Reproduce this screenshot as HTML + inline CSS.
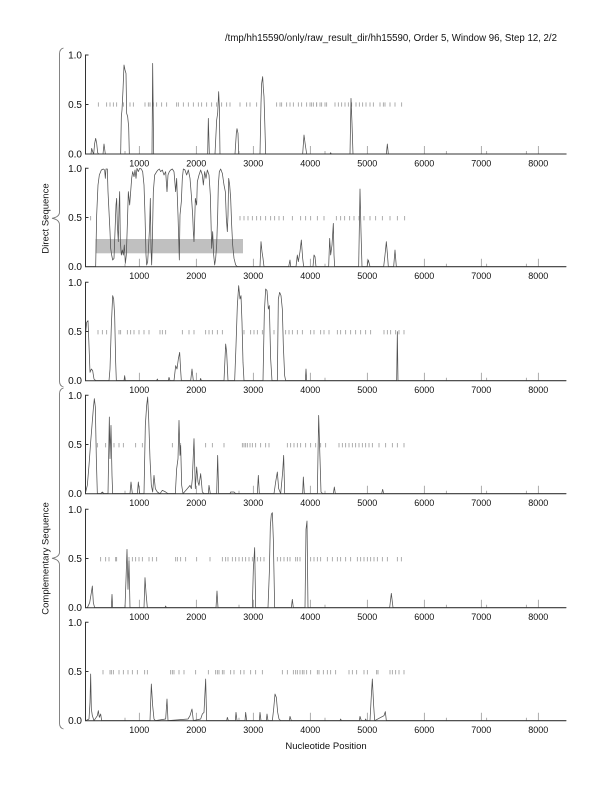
<!DOCTYPE html>
<html><head><meta charset="utf-8"><style>
html,body{margin:0;padding:0;background:#fff;}
svg{display:block;}
text{font-family:"Liberation Sans",Arial,sans-serif;fill:#111;}
.c{fill:none;stroke:#505050;stroke-width:0.75;vector-effect:non-scaling-stroke;stroke-linejoin:round;}
.m{fill:none;stroke:#9a9a9a;stroke-width:0.8;vector-effect:non-scaling-stroke;}
.ax{fill:none;stroke:#333;stroke-width:1;}
.tk{fill:none;stroke:#888;stroke-width:0.7;}
.yl{font-size:10px;text-anchor:end;}
.xl{font-size:9px;text-anchor:middle;}
</style></head><body>
<svg width="612" height="792" viewBox="0 0 612 792" xmlns="http://www.w3.org/2000/svg">
<rect width="612" height="792" fill="#fff"/>
<text x="557" y="41" font-size="10" text-anchor="end" textLength="332" lengthAdjust="spacingAndGlyphs">/tmp/hh15590/only/raw_result_dir/hh15590, Order 5, Window 96, Step 12, 2/2</text>

<!-- braces -->
<path d="M63.5,48 Q59.5,49 59.5,54 L59.5,212 Q59.5,217 52,218.3 Q59.5,219.5 59.5,225 L59.5,381 Q59.5,386 63.5,387" fill="none" stroke="#777" stroke-width="0.9"/>
<path d="M63.5,388 Q59.5,389 59.5,394 L59.5,552 Q59.5,557 52,558.3 Q59.5,559.5 59.5,565 L59.5,723 Q59.5,728 63.5,729" fill="none" stroke="#777" stroke-width="0.9"/>
<text transform="translate(48.5,218.5) rotate(-90)" font-size="9.5" text-anchor="middle">Direct Sequence</text>
<text transform="translate(48.5,558.5) rotate(-90)" font-size="9.5" text-anchor="middle">Complementary Sequence</text>
<text x="326" y="749" font-size="9.5" text-anchor="middle">Nucleotide Position</text>

<!-- ===== Panel 1 ===== -->
<g>
<path class="tk" d="M139.3,154v-8M196.3,154v-8M253.3,154v-8M310.3,154v-8M367.3,154v-8M424.3,154v-8M481.3,154v-8M538.3,154v-8M125,154v-3M239,154v-3M325,154v-3M446.3,154v-3M486.7,154v-3M526.3,154v-3"/>
<g transform="translate(30,30) scale(0.33333)">
<path class="m" d="M205 217v13M230 217v13M240 217v13M250 217v13M260 217v13M280 217v13M300 217v13M310 217v13M345 217v13M355 217v13M360 217v13M370 217v13M380 217v13M395 217v13M410 217v13M440 217v13M445 217v13M460 217v13M475 217v13M490 217v13M505 217v13M515 217v13M530 217v13M545 217v13M560 217v13M575 217v13M590 217v13M600 217v13M630 217v13M650 217v13M660 217v13M680 217v13M740 217v13M750 217v13M755 217v13M770 217v13M780 217v13M790 217v13M805 217v13M815 217v13M830 217v13M845 217v13M860 217v13M875 217v13M890 217v13"/>
<polyline class="c" points="168,372 183,372 185,355 188,365 191,372 194,340 197,325 200,340 203,368 206,372 219,372 222,342 226,372 272,372 274,260 276,240 279,180 282,105 285,120 288,130 290,250 293,260 296,290 298,372 366,372 368,100 371,372 533,372 535,265 538,372 555,372 560,270 563,250 566,185 568,230 570,372 615,372 619,310 621,296 624,310 626,372 690,372 693,220 695,160 698,140 700,175 702,200 705,300 707,372 818,372 822,315 826,345 830,372 900,372"/>
</g>
<g transform="translate(300,30) scale(0.33333)">
<path class="m" d="M30 217v13M40 217v13M50 217v13M60 217v13M75 217v13M105 217v13M115 217v13M125 217v13M135 217v13M145 217v13M155 217v13M168 217v13M178 217v13M188 217v13M198 217v13M210 217v13M220 217v13M240 217v13M250 217v13M255 217v13M270 217v13M285 217v13M305 217v13"/>
<polyline class="c" points="90,372 92,368 94,372 150,372 153,205 156,280 159,372 259,372 262,342 265,372 800,372"/>
</g>
<path class="ax" d="M88.5,55H85.5V154H566.3M85.5,104.5h3"/>
<text class="yl" x="82" y="58.5">1.0</text><text class="yl" x="82" y="108">0.5</text><text class="yl" x="82" y="157.5">0.0</text>
<text class="xl" x="139.3" y="166.5">1000</text><text class="xl" x="196.3" y="166.5">2000</text><text class="xl" x="253.3" y="166.5">3000</text><text class="xl" x="310.3" y="166.5">4000</text><text class="xl" x="367.3" y="166.5">5000</text><text class="xl" x="424.3" y="166.5">6000</text><text class="xl" x="481.3" y="166.5">7000</text><text class="xl" x="538.3" y="166.5">8000</text>
</g>

<!-- ===== Panel 2 ===== -->
<g>
<rect x="95.5" y="239" width="147.5" height="14.3" fill="#c0c0c0"/>
<path class="tk" d="M139.3,266.7v-8M196.3,266.7v-8M253.3,266.7v-8M310.3,266.7v-8M367.3,266.7v-8M424.3,266.7v-8M481.3,266.7v-8M538.3,266.7v-8M125,266.7v-3M325,266.7v-3M446.3,266.7v-3M486.7,266.7v-3M526.3,266.7v-3"/>
<g transform="translate(84,165) scale(0.33333)">
<path class="m" d="M20 153v13M468 153v13M480 153v13M492 153v13M505 153v13M518 153v13M530 153v13M545 153v13M560 153v13M572 153v13M585 153v13M598 153v13M625 153v13M650 153v13M665 153v13M680 153v13M700 153v13M720 153v13M757 153v13M770 153v13M782 153v13M797 153v13M810 153v13M825 153v13M840 153v13M858 153v13M875 153v13M895 153v13M918 153v13M940 153v13M962 153v13"/>
<polyline class="c" points="5,305 35,305 38,150 42,60 46,30 52,15 58,12 62,15 64,40 66,12 70,12 72,80 75,140 78,200 80,250 83,270 86,285 90,280 93,200 96,120 98,100 100,180 103,230 105,130 107,80 109,230 112,270 115,255 118,270 121,240 124,295 127,270 130,180 133,80 137,120 140,80 143,40 146,20 150,35 153,15 156,40 159,10 163,20 167,10 172,12 176,20 180,60 183,150 186,270 188,300 191,290 194,240 197,180 199,100 201,250 203,300 205,230 208,80 212,30 218,20 222,15 226,12 230,20 235,15 240,30 245,20 249,80 252,30 256,20 260,15 265,12 270,20 275,80 278,40 282,150 286,285 288,150 292,110 295,40 298,12 303,15 308,30 313,15 318,40 322,90 326,150 328,200 330,230 332,170 334,100 338,120 340,50 345,30 350,15 355,30 358,60 362,20 366,40 370,15 375,30 379,90 381,170 383,250 386,200 389,270 392,300 395,280 398,240 401,150 403,60 406,20 410,12 415,25 420,60 424,80 427,160 430,200 432,150 434,40 437,60 440,100 443,180 446,240 450,280 455,300 460,305 528,305 531,230 534,260 537,280 540,305 614,305 618,285 620,305 636,305 640,270 643,290 648,260 652,225 656,280 659,305 687,305 690,270 693,275 696,305 734,305 737,220 740,270 744,240 748,175 750,270 752,305 824,305 828,72 831,200 834,305 849,305 853,285 858,305 899,305 903,270 907,230 910,265 913,305 929,305 933,255 937,305 1447,305"/>
</g>
<path class="ax" d="M88.5,168.3H85.5V266.7H566.3M85.5,217.5h3"/>
<text class="yl" x="82" y="171.8">1.0</text><text class="yl" x="82" y="221">0.5</text><text class="yl" x="82" y="270.2">0.0</text>
<text class="xl" x="139.3" y="279.2">1000</text><text class="xl" x="196.3" y="279.2">2000</text><text class="xl" x="253.3" y="279.2">3000</text><text class="xl" x="310.3" y="279.2">4000</text><text class="xl" x="367.3" y="279.2">5000</text><text class="xl" x="424.3" y="279.2">6000</text><text class="xl" x="481.3" y="279.2">7000</text><text class="xl" x="538.3" y="279.2">8000</text>
</g>

<!-- ===== Panel 3 ===== -->
<g>
<path class="tk" d="M139.3,380.7v-8M196.3,380.7v-8M253.3,380.7v-8M310.3,380.7v-8M367.3,380.7v-8M424.3,380.7v-8M481.3,380.7v-8M538.3,380.7v-8M125,380.7v-3M325,380.7v-3M446.3,380.7v-3M486.7,380.7v-3M526.3,380.7v-3"/>
<g transform="translate(84,279) scale(0.33333)">
<path class="m" d="M42 153v13M55 153v13M68 153v13M105 153v13M110 153v13M130 153v13M140 153v13M150 153v13M165 153v13M180 153v13M195 153v13M228 153v13M235 153v13M245 153v13M295 153v13M315 153v13M330 153v13M365 153v13M375 153v13M385 153v13M400 153v13M415 153v13M480 153v13M500 153v13M510 153v13M520 153v13M535 153v13M570 153v13M605 153v13M615 153v13M625 153v13M640 153v13M655 153v13M680 153v13M690 153v13M710 153v13M720 153v13M735 153v13M760 153v13M770 153v13M785 153v13M800 153v13M815 153v13M830 153v13M845 153v13M860 153v13M900 153v13M910 153v13M920 153v13M935 153v13M945 153v13M960 153v13"/>
<polyline class="c" points="5,305 5,160 8,130 12,125 15,200 18,280 22,270 26,275 30,300 35,305 75,305 78,270 82,140 86,50 89,60 92,110 95,250 97,305 120,305 122,290 124,305 218,305 220,300 222,305 253,305 255,295 258,305 270,305 275,260 279,270 283,240 287,220 290,275 292,305 320,305 324,270 328,305 348,305 350,298 352,305 420,305 425,195 428,220 432,305 452,305 456,200 460,80 464,20 468,60 471,50 474,130 477,250 480,305 537,305 541,100 545,30 549,35 553,90 556,80 560,240 564,305 580,305 583,60 587,40 591,50 595,90 598,200 602,290 605,305 664,305 666,270 668,305 938,305 940,158 942,305 1447,305"/>
</g>
<path class="ax" d="M88.5,282.3H85.5V380.7H566.3M85.5,331.5h3"/>
<text class="yl" x="82" y="285.8">1.0</text><text class="yl" x="82" y="335">0.5</text><text class="yl" x="82" y="384.2">0.0</text>
<text class="xl" x="139.3" y="393.2">1000</text><text class="xl" x="196.3" y="393.2">2000</text><text class="xl" x="253.3" y="393.2">3000</text><text class="xl" x="310.3" y="393.2">4000</text><text class="xl" x="367.3" y="393.2">5000</text><text class="xl" x="424.3" y="393.2">6000</text><text class="xl" x="481.3" y="393.2">7000</text><text class="xl" x="538.3" y="393.2">8000</text>
</g>

<!-- ===== Panel 4 ===== -->
<g>
<path class="tk" d="M139.3,493.7v-8M196.3,493.7v-8M253.3,493.7v-8M310.3,493.7v-8M367.3,493.7v-8M424.3,493.7v-8M481.3,493.7v-8M538.3,493.7v-8M125,493.7v-3M239,493.7v-3M325,493.7v-3M446.3,493.7v-3M486.7,493.7v-3M526.3,493.7v-3"/>
<g transform="translate(84,392) scale(0.33333)">
<path class="m" d="M40 153v13M65 153v13M78 153v13M90 153v13M105 153v13M118 153v13M155 153v13M175 153v13M265 153v13M290 153v13M365 153v13M385 153v13M420 153v13M475 153v13M480 153v13M485 153v13M490 153v13M498 153v13M505 153v13M515 153v13M530 153v13M545 153v13M555 153v13M610 153v13M620 153v13M630 153v13M640 153v13M650 153v13M665 153v13M680 153v13M695 153v13M710 153v13M725 153v13M765 153v13M775 153v13M785 153v13M795 153v13M805 153v13M815 153v13M825 153v13M835 153v13M845 153v13M855 153v13M865 153v13M885 153v13M905 153v13M925 153v13M940 153v13M960 153v13"/>
<polyline class="c" points="5,300 10,280 15,220 20,150 24,100 28,50 31,20 34,45 37,200 40,305 50,305 55,300 60,305 72,305 76,75 78,200 81,100 84,250 86,305 138,305 141,270 145,305 160,305 163,270 167,305 180,305 184,100 188,40 191,15 194,80 198,200 202,280 206,300 210,250 214,290 220,300 228,305 235,295 245,300 252,305 274,305 278,230 282,200 285,85 288,190 290,160 293,280 297,305 310,290 318,280 322,290 325,260 330,140 334,290 338,225 342,270 345,280 350,245 355,300 360,305 373,305 375,280 379,305 398,305 401,190 404,305 438,305 440,300 450,300 455,305 520,305 523,250 526,305 570,305 575,270 580,240 584,290 590,305 596,240 599,190 602,305 656,305 658,255 661,305 700,305 704,70 708,200 711,300 716,305 748,305 751,285 754,305 893,305 896,292 899,305 1447,305"/>
</g>
<path class="ax" d="M88.5,395.3H85.5V493.7H566.3M85.5,444.5h3"/>
<text class="yl" x="82" y="398.8">1.0</text><text class="yl" x="82" y="448">0.5</text><text class="yl" x="82" y="497.2">0.0</text>
<text class="xl" x="139.3" y="506.2">1000</text><text class="xl" x="196.3" y="506.2">2000</text><text class="xl" x="253.3" y="506.2">3000</text><text class="xl" x="310.3" y="506.2">4000</text><text class="xl" x="367.3" y="506.2">5000</text><text class="xl" x="424.3" y="506.2">6000</text><text class="xl" x="481.3" y="506.2">7000</text><text class="xl" x="538.3" y="506.2">8000</text>
</g>

<!-- ===== Panel 5 ===== -->
<g>
<path class="tk" d="M139.3,607.7v-8M196.3,607.7v-8M253.3,607.7v-8M310.3,607.7v-8M367.3,607.7v-8M424.3,607.7v-8M481.3,607.7v-8M538.3,607.7v-8M125,607.7v-3M239,607.7v-3M325,607.7v-3M446.3,607.7v-3M486.7,607.7v-3M526.3,607.7v-3"/>
<g transform="translate(84,506) scale(0.33333)">
<path class="m" d="M50 153v13M65 153v13M75 153v13M95 153v13M98 153v13M135 153v13M145 153v13M155 153v13M165 153v13M175 153v13M195 153v13M205 153v13M218 153v13M275 153v13M280 153v13M290 153v13M305 153v13M338 153v13M378 153v13M415 153v13M425 153v13M432 153v13M445 153v13M455 153v13M465 153v13M475 153v13M485 153v13M495 153v13M505 153v13M520 153v13M530 153v13M540 153v13M580 153v13M590 153v13M600 153v13M610 153v13M618 153v13M635 153v13M640 153v13M648 153v13M680 153v13M690 153v13M700 153v13M710 153v13M730 153v13M745 153v13M760 153v13M770 153v13M785 153v13M800 153v13M820 153v13M830 153v13M840 153v13M850 153v13M860 153v13M870 153v13M880 153v13M895 153v13M910 153v13M940 153v13M952 153v13"/>
<polyline class="c" points="5,305 10,305 17,290 22,260 25,240 28,290 32,305 82,305 84,265 86,305 123,305 126,220 129,130 132,250 135,165 138,305 180,305 183,215 186,260 190,305 243,305 245,300 247,305 396,305 399,255 402,305 505,305 508,190 512,125 515,305 552,305 556,200 559,60 562,25 565,20 568,100 572,305 622,305 625,280 628,305 663,305 666,70 669,45 672,305 917,305 922,262 927,305 1447,305"/>
</g>
<path class="ax" d="M88.5,509.3H85.5V607.7H566.3M85.5,558.5h3"/>
<text class="yl" x="82" y="512.8">1.0</text><text class="yl" x="82" y="562">0.5</text><text class="yl" x="82" y="611.2">0.0</text>
<text class="xl" x="139.3" y="620.2">1000</text><text class="xl" x="196.3" y="620.2">2000</text><text class="xl" x="253.3" y="620.2">3000</text><text class="xl" x="310.3" y="620.2">4000</text><text class="xl" x="367.3" y="620.2">5000</text><text class="xl" x="424.3" y="620.2">6000</text><text class="xl" x="481.3" y="620.2">7000</text><text class="xl" x="538.3" y="620.2">8000</text>
</g>

<!-- ===== Panel 6 ===== -->
<g>
<path class="tk" d="M139.3,720.7v-8M196.3,720.7v-8M253.3,720.7v-8M310.3,720.7v-8M367.3,720.7v-8M424.3,720.7v-8M481.3,720.7v-8M538.3,720.7v-8M125,720.7v-3M239,720.7v-3M325,720.7v-3M446.3,720.7v-3M486.7,720.7v-3M526.3,720.7v-3"/>
<g transform="translate(84,619) scale(0.33333)">
<path class="m" d="M57 153v13M78 153v13M82 153v13M88 153v13M105 153v13M118 153v13M132 153v13M145 153v13M160 153v13M182 153v13M190 153v13M260 153v13M265 153v13M270 153v13M285 153v13M300 153v13M335 153v13M373 153v13M395 153v13M400 153v13M405 153v13M415 153v13M420 153v13M440 153v13M450 153v13M470 153v13M480 153v13M500 153v13M515 153v13M535 153v13M595 153v13M610 153v13M628 153v13M635 153v13M640 153v13M648 153v13M655 153v13M660 153v13M668 153v13M680 153v13M700 153v13M705 153v13M718 153v13M730 153v13M740 153v13M755 153v13M795 153v13M805 153v13M818 153v13M840 153v13M850 153v13M878 153v13M882 153v13M918 153v13M925 153v13M935 153v13M945 153v13M960 153v13"/>
<polyline class="c" points="5,305 15,300 18,250 20,165 22,270 25,290 30,305 40,290 43,275 46,295 50,285 53,305 198,305 202,195 206,260 210,300 214,305 245,300 249,240 252,305 312,300 318,290 324,270 328,305 350,300 355,285 360,280 365,180 368,305 428,305 430,295 433,305 454,305 456,280 459,305 483,305 485,280 488,305 526,305 528,280 531,305 547,305 549,285 552,305 565,305 569,270 573,225 577,235 581,280 585,300 590,305 616,305 618,292 622,305 768,305 770,300 772,305 826,305 828,292 832,305 843,305 845,300 847,305 858,305 862,230 865,180 869,260 872,305 900,290 904,278 907,305 1447,305"/>
</g>
<path class="ax" d="M88.5,622.3H85.5V720.7H566.3M85.5,671.5h3"/>
<text class="yl" x="82" y="625.8">1.0</text><text class="yl" x="82" y="675">0.5</text><text class="yl" x="82" y="724.2">0.0</text>
<text class="xl" x="139.3" y="733.2">1000</text><text class="xl" x="196.3" y="733.2">2000</text><text class="xl" x="253.3" y="733.2">3000</text><text class="xl" x="310.3" y="733.2">4000</text><text class="xl" x="367.3" y="733.2">5000</text><text class="xl" x="424.3" y="733.2">6000</text><text class="xl" x="481.3" y="733.2">7000</text><text class="xl" x="538.3" y="733.2">8000</text>
</g>
</svg>
</body></html>
